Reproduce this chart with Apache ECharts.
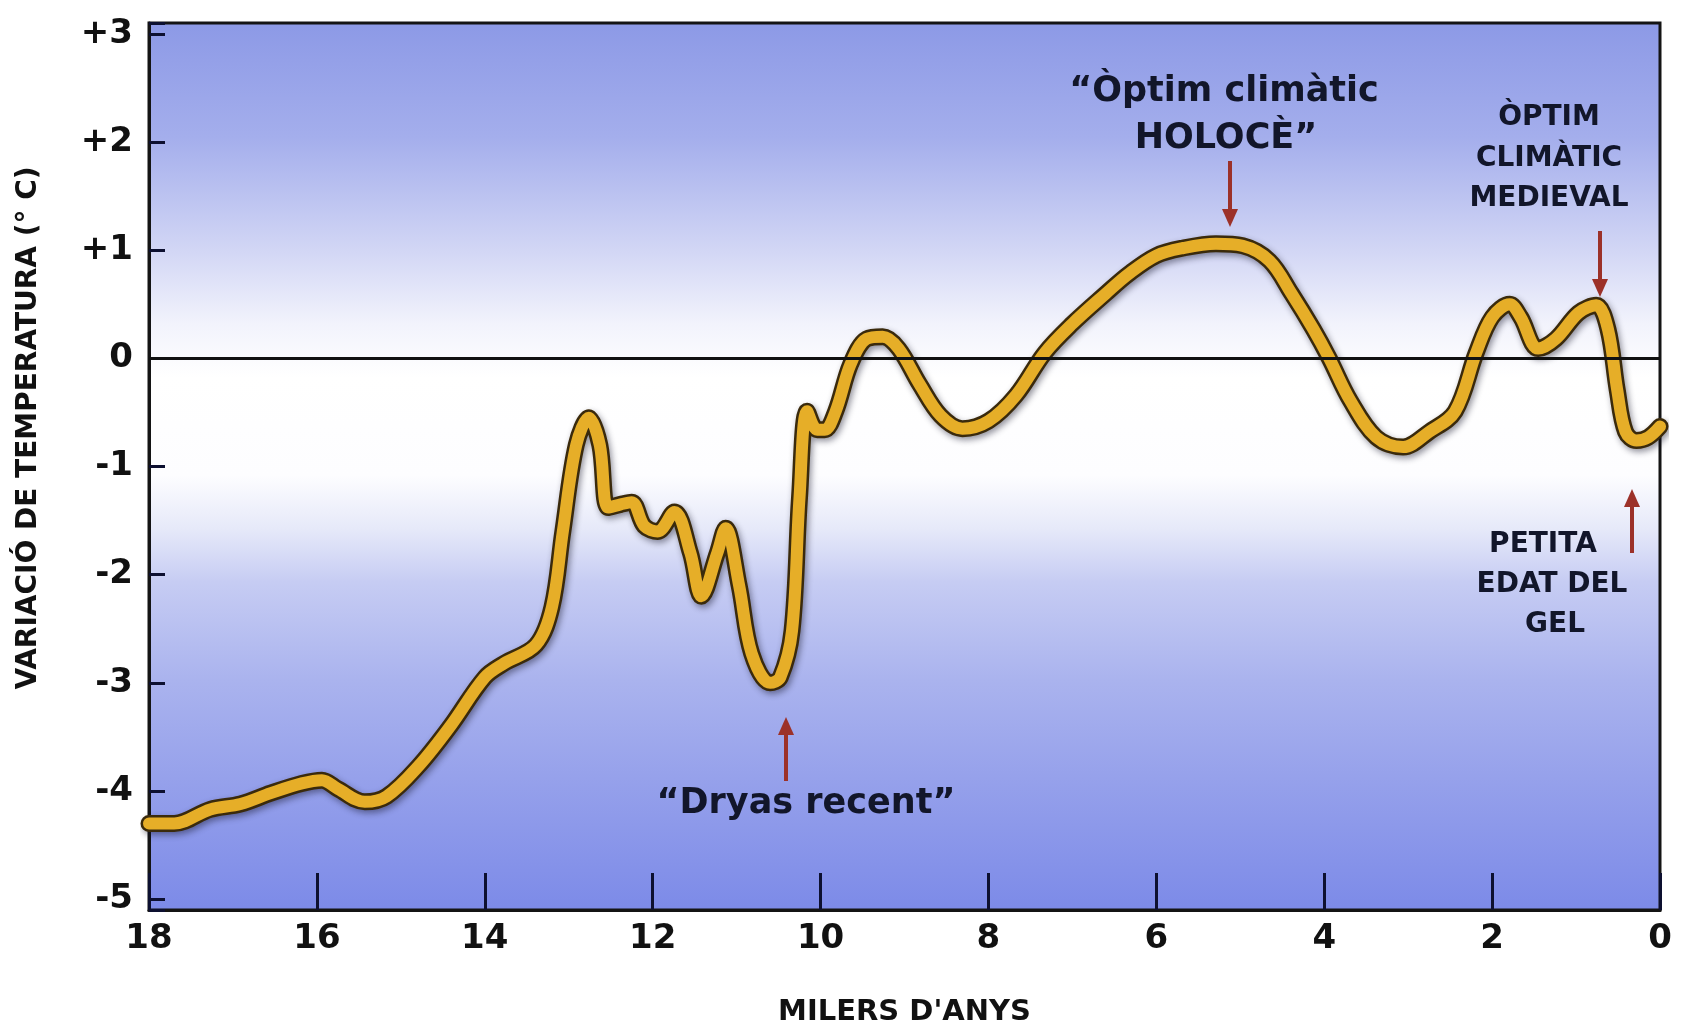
<!DOCTYPE html>
<html>
<head>
<meta charset="utf-8">
<script src="https://cdn.jsdelivr.net/npm/echarts@6/dist/echarts.min.js"></script>
<style>
html,body{margin:0;padding:0;background:#fff;}
#chart{width:1684px;height:1032px;}
</style>
</head>
<body>
<div id="chart"></div>
<script>
// Thousands of years before present
var years = [18.0,17.7,17.27,16.91,16.55,16.18,15.94,15.75,15.43,15.17,14.79,14.41,14.0,13.77,13.39,13.2,13.07,12.91,12.76,12.63,12.53,12.38,12.25,12.1,11.94,11.74,11.55,11.42,11.23,11.13,10.97,10.82,10.6,10.48,10.34,10.25,10.16,10.04,9.95,9.82,9.64,9.45,9.26,9.07,8.82,8.57,8.31,8.0,7.67,7.33,7.0,6.6,6.33,6.0,5.68,5.29,4.97,4.65,4.39,4.13,3.94,3.69,3.38,3.06,2.75,2.44,2.19,2.0,1.79,1.66,1.45,1.24,0.97,0.76,0.62,0.51,0.41,0.28,0.14,0.0];
// Temperature variation (°C)
var temps = [-4.3,-4.3,-4.17,-4.12,-4.02,-3.93,-3.9,-3.98,-4.1,-4.05,-3.77,-3.4,-2.95,-2.82,-2.65,-2.3,-1.6,-0.8,-0.55,-0.8,-1.38,-1.35,-1.33,-1.55,-1.6,-1.42,-1.8,-2.2,-1.8,-1.57,-2.1,-2.73,-3.0,-2.95,-2.52,-1.28,-0.49,-0.66,-0.66,-0.49,-0.05,0.18,0.2,0.09,-0.24,-0.53,-0.65,-0.58,-0.34,0.05,0.32,0.6,0.78,0.95,1.02,1.06,1.04,0.9,0.6,0.27,0.0,-0.39,-0.73,-0.82,-0.68,-0.49,0.05,0.38,0.5,0.38,0.09,0.18,0.42,0.49,0.27,-0.29,-0.68,-0.76,-0.73,-0.63];
var xTicks = [18,16,14,12,10,8,6,4,2,0];
var yTickLabels = {'3':'+3','2':'+2','1':'+1','0':'0','-1':'-1','-2':'-2','-3':'-3','-4':'-4','-5':'-5'};

var series = years.map(function(y, i){ return [y, temps[i]]; });

var txtColor = '#12162a';
var arrowColor = '#9C3129';
var annFont = 'bold 35px "DejaVu Sans"';
var annFontSmall = 'bold 28px "DejaVu Sans"';

function textEl(text, x, y, font){
  return {type:'text', x:x, y:y, silent:true, z:100,
    style:{text:text, font:font, fill:txtColor, textAlign:'center', textVerticalAlign:'middle'}};
}
function arrow(x, yTail, yHead){
  var dir = yHead > yTail ? 1 : -1;
  var headLen = 18, headW = 8;
  return [
    {type:'line', silent:true, z:100, shape:{x1:x, y1:yTail, x2:x, y2:yHead - dir*headLen}, style:{stroke:arrowColor, lineWidth:4}},
    {type:'polygon', silent:true, z:100, shape:{points:[[x-headW, yHead - dir*headLen],[x+headW, yHead - dir*headLen],[x, yHead]]}, style:{fill:arrowColor}}
  ];
}

var graphics = [
  {type:'text', x:29, y:428, rotation:Math.PI/2, silent:true,
    style:{text:'VARIACIÓ DE TEMPERATURA (° C)', font:'bold 28px "DejaVu Sans"', fill:'#111', textAlign:'center', textVerticalAlign:'middle'}},
  textEl('\u201CÒptim climàtic', 1224, 92, annFont),
  textEl('HOLOCÈ\u201D', 1226, 139, annFont),
  textEl('ÒPTIM', 1549, 118, annFontSmall),
  textEl('CLIMÀTIC', 1549, 159, annFontSmall),
  textEl('MEDIEVAL', 1549, 199, annFontSmall),
  textEl('PETITA', 1543, 545, annFontSmall),
  textEl('EDAT DEL', 1552, 585, annFontSmall),
  textEl('GEL', 1555, 625, annFontSmall),
  textEl('\u201CDryas recent\u201D', 806, 804, annFont)
].concat(arrow(1230, 161, 227), arrow(1600, 231, 297), arrow(1632, 553, 489), arrow(786, 781, 717));

var chart = echarts.init(document.getElementById('chart'));
chart.setOption({
  animation:false,
  backgroundColor:'#ffffff',
  grid:{
    left:149, right:24, top:23, bottom:105,
    show:true, borderColor:'#141414', borderWidth:3,
    backgroundColor:{type:'linear', x:0, y:0, x2:0, y2:1, colorStops:[
      {offset:0, color:'#8C99E6'},
      {offset:0.13, color:'#A4AEEC'},
      {offset:0.26, color:'#D3D7F5'},
      {offset:0.34, color:'#F2F3FC'},
      {offset:0.40, color:'#FFFFFF'},
      {offset:0.51, color:'#FDFDFF'},
      {offset:0.57, color:'#E6E9F9'},
      {offset:0.63, color:'#C6CCF3'},
      {offset:0.74, color:'#AAB3EE'},
      {offset:0.85, color:'#96A1EB'},
      {offset:1, color:'#7C8AE8'}
    ]}
  },
  xAxis:{
    type:'value', min:0, max:18, interval:2, inverse:true,
    name:"MILERS D'ANYS", nameLocation:'middle', nameGap:88,
    nameTextStyle:{fontFamily:'DejaVu Sans', fontWeight:'bold', fontSize:29, color:'#111'},
    axisLine:{show:true, onZero:false, lineStyle:{color:'#141414', width:3}},
    axisTick:{show:true, inside:true, length:37, lineStyle:{color:'#0d1030', width:3}},
    axisLabel:{fontFamily:'DejaVu Sans', fontWeight:'bold', fontSize:34, color:'#111', margin:12,
      formatter:function(v){ return xTicks.indexOf(v) >= 0 ? String(v) : ''; }},
    splitLine:{show:false}
  },
  yAxis:{
    type:'value', min:-5.1, max:3.1, splitNumber:8, minInterval:1, maxInterval:1,
    axisLine:{show:true, onZero:false, lineStyle:{color:'#141414', width:3}},
    axisTick:{show:true, inside:true, length:16, lineStyle:{color:'#0d1030', width:3}},
    axisLabel:{fontFamily:'DejaVu Sans', fontWeight:'bold', fontSize:34, color:'#111', margin:16,
      showMinLabel:true, showMaxLabel:true,
      formatter:function(v){ var k = String(Math.round(v)); return (Math.abs(v - Math.round(v)) < 1e-6 && yTickLabels[k]) ? yTickLabels[k] : ''; }},
    splitLine:{show:false}
  },
  series:[
    {
      type:'line', data:series, smooth:0.35, symbol:'none', z:2, silent:true,
      lineStyle:{color:'#3a2a0c', width:17, cap:'round', join:'round',
        shadowColor:'rgba(20,20,40,0.45)', shadowBlur:6, shadowOffsetX:2, shadowOffsetY:3},
      markLine:{silent:true, symbol:'none', label:{show:false},
        lineStyle:{color:'#111', width:3, type:'solid'},
        data:[{yAxis:0}]}
    },
    {
      type:'line', data:series, smooth:0.35, symbol:'none', z:3, silent:true,
      lineStyle:{color:'#E6AE28', width:12, cap:'round', join:'round'}
    }
  ],
  graphic:graphics
});
</script>
</body>
</html>
